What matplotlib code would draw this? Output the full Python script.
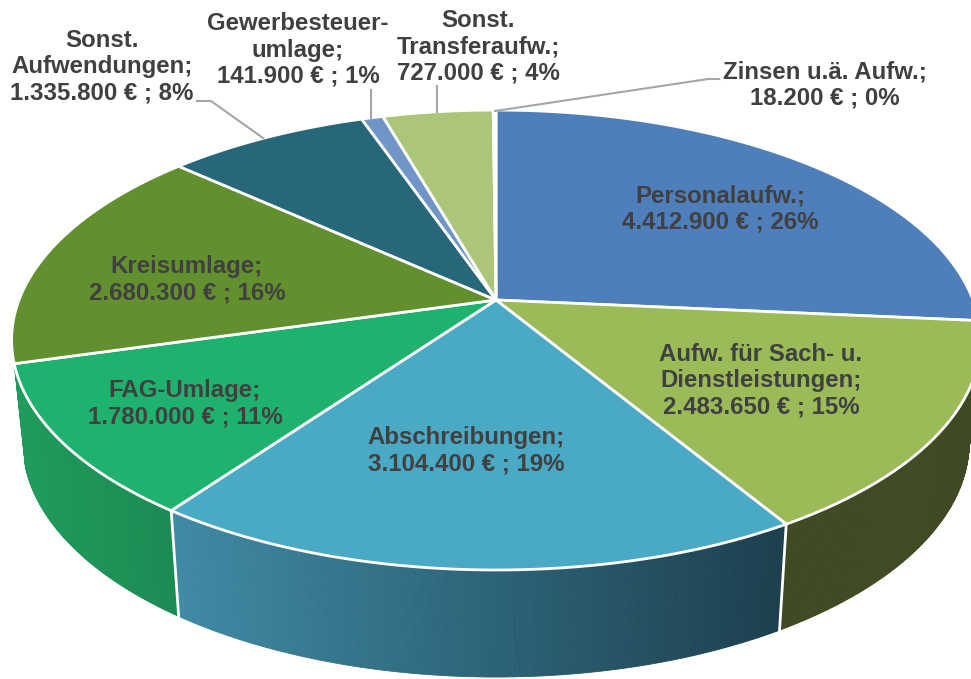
import numpy as np
from matplotlib import pyplot as plt
from matplotlib.colors import to_rgb

names = ['Personalaufw.', 'Aufw. für Sach- u.\nDienstleistungen', 'Abschreibungen',
         'FAG-Umlage', 'Kreisumlage', 'Sonst.\nAufwendungen',
         'Gewerbesteuer-\numlage', 'Sonst.\nTransferaufw.', 'Zinsen u.ä. Aufw.']
values = [4412900, 2483650, 3104400, 1780000, 2680300, 1335800, 141900, 727000, 18200]
top_colors = ['#4E7FBA', '#9BBB59', '#4AA9C4', '#1FB26E', '#63902F',
              '#26677A', '#7096C8', '#ABC678', '#92CDDD']
label_x = [720, 761, 466, 185, 187, 102, 298, 478, 825]
label_y = [209, 381, 451, 404, 280, 67, 50, 47, 85]
leaders = [[(197, 101), (211, 101), (263, 138)],
           [(371, 90), (371, 118)],
           [(437, 86), (437, 112)],
           [(719, 79), (708, 79), (495, 111)]]

plt.rcParams['font.family'] = ['Liberation Sans', 'DejaVu Sans']

# perspective of the disc, in pixels
k = 0.174


def project(theta, r, cx, cy, fx, fy):
    x = r * np.sin(theta)
    y = r * np.cos(theta)
    d = 1 + k * y
    return cx + fx * x / d, cy - fy * y / d


def top(theta, r=1.0):
    return project(theta, r, 496, 300, 477, 223)


def bottom(theta, r=1.0):
    return project(theta, r, 496, 401, 466, 228)


fig = plt.figure(figsize=(9.71, 6.79), dpi=100)
ax = fig.add_axes([0, 0, 1, 1])
ax.set_xlim(0, 971)
ax.set_ylim(679, 0)
ax.axis('off')

edges = np.concatenate([[0], np.cumsum(values)]) / sum(values) * 2 * np.pi


def side(a, b, c0, c1, x0, x1):
    # side wall as many small strips, colour runs left to right
    ts = np.linspace(a, b, 160)
    c0, c1 = np.array(to_rgb(c0)), np.array(to_rgb(c1))
    for t0, t1 in zip(ts[:-1], ts[1:]):
        xa, ya = top(t0)
        xb, yb = top(t1)
        xc, yc = bottom(t1)
        xd, yd = bottom(t0)
        f = np.clip(((xa + xb) / 2 - x0) / (x1 - x0), 0, 1)
        col = c0 + (c1 - c0) * f
        ax.fill([xa, xb, xc, xd], [ya, yb, yc, yd], color=col, lw=0.6, zorder=1)


side(edges[1], edges[2], '#3F4A22', '#3F4A22', 0, 971)
side(edges[2], edges[3], '#3F8AA5', '#1C3F4D', 172, 786)
side(edges[3], edges[4], '#1F9C5C', '#1A8A52', 14, 172)

# top of the disc
for i in range(len(values)):
    ts = np.linspace(edges[i], edges[i + 1], 200)
    xs, ys = top(ts)
    ax.fill(np.r_[496, xs], np.r_[300, ys], facecolor=top_colors[i],
            edgecolor='white', lw=2, joinstyle='round', zorder=2)

# white lines between the side walls
for e in edges[2:4]:
    xa, ya = top(e)
    xb, yb = bottom(e)
    ax.plot([xa, xb], [ya, yb], color='white', lw=2, zorder=3)

for line in leaders:
    ax.plot([p[0] for p in line], [p[1] for p in line], color='#A6A6A6', lw=1.5, zorder=3)

total = sum(values)
for i in range(len(values)):
    money = f"{values[i]:,}".replace(',', '.')
    txt = f"{names[i]};\n{money} € ; {round(values[i] / total * 100)}%"
    ax.text(label_x[i], label_y[i], txt, ha='center', va='center', fontsize=17.3,
            fontweight='bold', color='#404040', linespacing=1.17, zorder=4)

fig.savefig('out.png', dpi=100)
